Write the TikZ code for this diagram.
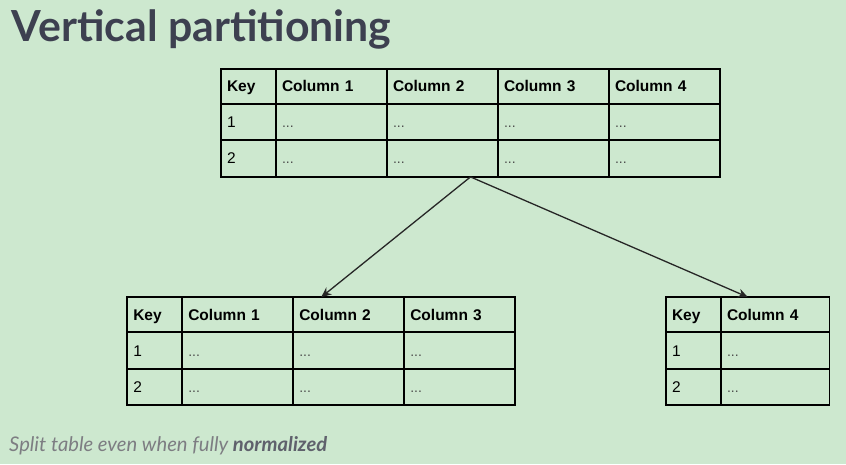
\documentclass[tikz,border=0pt]{standalone}
\usepackage{fontspec}
\setmainfont{Lato}
\newfontfamily\arialfont{Liberation Sans}
\usetikzlibrary{arrows.meta,positioning,fit}
\definecolor{slidebg}{RGB}{205,232,207}
\definecolor{titlegray}{RGB}{61,64,80}
\definecolor{notegray}{RGB}{125,125,130}
\definecolor{notedark}{RGB}{95,97,108}

\begin{document}
\begin{tikzpicture}[x=1pt,y=-1pt,>={Stealth[length=10pt,width=9pt]},
    cell/.style={draw,line width=1.8pt,outer sep=0pt,inner xsep=6pt,inner ysep=0pt,
      align=left,text height=11pt,text depth=0pt,font=\arialfont\fontsize{15.5}{18}\selectfont},
    keycell/.style={cell,minimum width=55pt,text width=43pt},
    colcell/.style={cell,minimum width=111pt,text width=99pt},
    headrow/.style={minimum height=35pt,font=\arialfont\bfseries\fontsize{15.5}{18}\selectfont},
    bodyrow/.style={minimum height=36.5pt},
    dotcell/.style={font=\arialfont\fontsize{14}{16}\selectfont,text=black!70},
    link/.style={->,line width=1.3pt,draw=black!85}]
  \fill[slidebg] (0,0) rectangle (846,464);
  \useasboundingbox (0,0) rectangle (846,464);

  \node[anchor=base west,inner sep=0pt,text=titlegray,
        font=\bfseries\fontsize{42.8}{50}\selectfont] (title) at (11.7,41.7) {Vertical partitioning};

  % full table
  \node[keycell,headrow,anchor=north west] (T-0-0) at (221,68.7) {Key};
  \foreach \i in {1,...,4} {
    \pgfmathtruncatemacro\j{\i-1}
    \node[colcell,headrow,right=0pt of T-0-\j] (T-0-\i) {Column \i};
  }
  \foreach \r in {1,2} {
    \pgfmathtruncatemacro\q{\r-1}
    \node[keycell,bodyrow,below=0pt of T-\q-0] (T-\r-0) {\r};
    \foreach \i in {1,...,4}
      \node[colcell,bodyrow,dotcell,below=0pt of T-\q-\i] (T-\r-\i) {...};
  }
  \node[fit=(T-0-0)(T-2-4),inner sep=0pt] (T) {};

  % left part
  \node[keycell,headrow,anchor=north west] (L-0-0) at (127.3,297.3) {Key};
  \foreach \i in {1,...,3} {
    \pgfmathtruncatemacro\j{\i-1}
    \node[colcell,headrow,right=0pt of L-0-\j] (L-0-\i) {Column \i};
  }
  \foreach \r in {1,2} {
    \pgfmathtruncatemacro\q{\r-1}
    \node[keycell,bodyrow,below=0pt of L-\q-0] (L-\r-0) {\r};
    \foreach \i in {1,...,3}
      \node[colcell,bodyrow,dotcell,below=0pt of L-\q-\i] (L-\r-\i) {...};
  }
  \node[fit=(L-0-0)(L-2-3),inner sep=0pt] (L) {};

  % right part
  \node[keycell,headrow,anchor=north west] (R-0-0) at (666,297.3) {Key};
  \node[colcell,headrow,minimum width=108.5pt,text width=96.5pt,right=0pt of R-0-0] (R-0-1) {Column 4};
  \foreach \r in {1,2} {
    \pgfmathtruncatemacro\q{\r-1}
    \node[keycell,bodyrow,below=0pt of R-\q-0] (R-\r-0) {\r};
    \node[colcell,bodyrow,dotcell,minimum width=108.5pt,text width=96.5pt,below=0pt of R-\q-1] (R-\r-1) {...};
  }
  \node[fit=(R-0-0)(R-2-1),inner sep=0pt] (R) {};

  \draw[link] (T.south) -- (L.north);
  \draw[link] (T.south) -- (R.north);

  \node[anchor=base west,inner sep=0pt,text=notegray,
        font=\itshape\fontsize{20.2}{24}\selectfont] (note) at (9,451.7)
        {Split table even when fully {\bfseries\color{notedark}normalized}};
\end{tikzpicture}
\end{document}
